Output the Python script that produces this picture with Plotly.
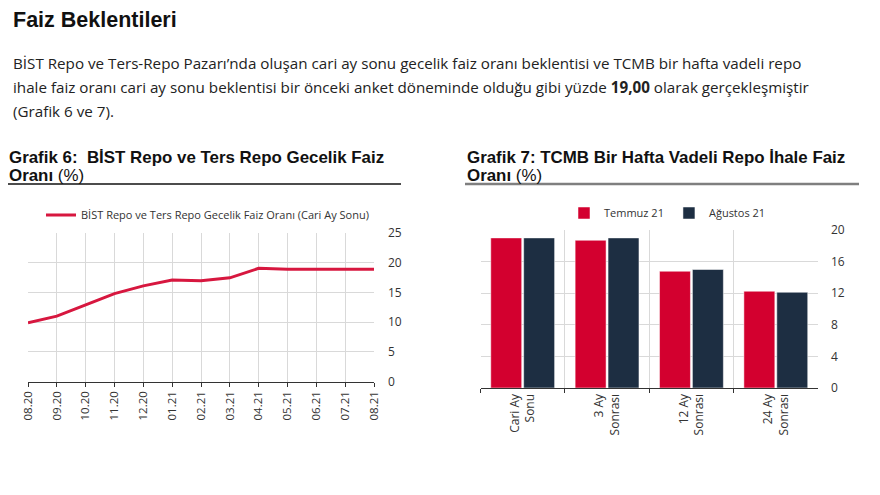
import plotly.graph_objects as go

# Grafik 6 verisi
months = ["08.20", "09.20", "10.20", "11.20", "12.20", "01.21", "02.21",
          "03.21", "04.21", "05.21", "06.21", "07.21", "08.21"]
bist_repo = [9.9, 11.0, 12.9, 14.8, 16.1, 17.1, 16.95, 17.45, 19.05, 18.9, 18.9, 18.9, 18.9]

# Grafik 7 verisi
horizons = ["Cari Ay<br>Sonu", "3 Ay<br>Sonrası", "12 Ay<br>Sonrası", "24 Ay<br>Sonrası"]
temmuz = [19.0, 18.7, 14.78, 12.25]
agustos = [19.0, 19.0, 15.0, 12.12]

red = "#D3002F"
navy = "#1D2E42"
grid = "#D9D9D9"

fig = go.Figure()

fig.add_trace(go.Scatter(x=months, y=bist_repo, mode="lines",
                         name="BİST Repo ve Ters Repo Gecelik Faiz Oranı (Cari Ay Sonu)",
                         line=dict(color="#D7173F", width=3), showlegend=True,
                         xaxis="x", yaxis="y", legend="legend"))

fig.add_trace(go.Bar(x=horizons, y=temmuz, name="Temmuz 21", marker_color=red,
                     marker_line=dict(color="white", width=0.5),
                     xaxis="x2", yaxis="y2", legend="legend2"))
fig.add_trace(go.Bar(x=horizons, y=agustos, name="Ağustos 21", marker_color=navy,
                     marker_line=dict(color="white", width=0.5),
                     xaxis="x2", yaxis="y2", legend="legend2"))

W, H = 880, 495
OFF = 8  # sayfa kenar boşluğu


def px(x):
    return (x - OFF) / W


def py(y):
    return 1 - (y - OFF) / H


tick_font = dict(family="Open Sans", size=12, color="#333333")

fig.update_layout(
    width=W, height=H,
    margin=dict(l=0, r=0, t=0, b=0, autoexpand=False),
    paper_bgcolor="white", plot_bgcolor="white",
    showlegend=True,
    barmode="group", bargap=0.22, bargroupgap=0.06,
    font=dict(family="Open Sans", color="#222222"),
    xaxis=dict(domain=[px(28), px(374)], type="category", range=[0, 12],
               showgrid=True, gridcolor=grid, gridwidth=1,
               showline=True, linecolor="#333333", linewidth=1.2,
               ticks="outside", ticklen=4, tickcolor="#333333",
               tickangle=-90, tickfont=dict(family="Open Sans", size=11.5, color="#333333"),
               anchor="y", zeroline=False),
    yaxis=dict(domain=[py(381.5), py(233)], range=[0, 25], dtick=5, side="right",
               showgrid=True, gridcolor=grid, gridwidth=1, zeroline=False,
               tickfont=tick_font, anchor="x", ticks="", ticklabelstandoff=13),
    xaxis2=dict(domain=[px(480.5), px(818)], type="category",
                showgrid=True, gridcolor=grid, gridwidth=1, tickson="boundaries",
                showline=True, linecolor="#333333", linewidth=1.2,
                ticks="outside", ticklen=4, tickcolor="#333333",
                tickangle=-90, tickfont=dict(family="Open Sans", size=12, color="#333333"),
                anchor="y2", zeroline=False),
    yaxis2=dict(domain=[py(388), py(230)], range=[0, 20], dtick=4, side="right",
                showgrid=True, gridcolor=grid, gridwidth=1, zeroline=False,
                tickfont=tick_font, anchor="x2", ticks="", ticklabelstandoff=12),
    legend=dict(orientation="h", x=px(41), y=py(215), xanchor="left", yanchor="middle",
                font=dict(family="Open Sans", size=11, color="#333333"),
                bgcolor="rgba(0,0,0,0)"),
    legend2=dict(orientation="h", x=px(564), y=py(213), xanchor="left", yanchor="middle",
                 font=dict(family="Open Sans", size=11, color="#333333"),
                 bgcolor="rgba(0,0,0,0)"),
)

# Metinler
texts = [
    (11, 20, "<b>Faiz Beklentileri</b>", "Liberation Sans", 21.5, "#111111"),
    (11, 63, "BİST Repo ve Ters-Repo Pazarı’nda oluşan cari ay sonu gecelik faiz oranı beklentisi ve TCMB bir hafta vadeli repo",
     "Open Sans", 15.2, "#222222"),
    (11, 87, "ihale faiz oranı cari ay sonu beklentisi bir önceki anket döneminde olduğu gibi yüzde <b>19,00</b> olarak gerçekleşmiştir",
     "Open Sans", 15.2, "#222222"),
    (11, 111, "(Grafik 6 ve 7).", "Open Sans", 15.2, "#222222"),
    (7, 158, "<b>Grafik 6:  BİST Repo ve Ters Repo Gecelik Faiz</b>", "Liberation Sans", 16.9, "#111111"),
    (7, 176, "<b>Oranı</b> (%)", "Liberation Sans", 16.9, "#111111"),
    (465, 158, "<b>Grafik 7: TCMB Bir Hafta Vadeli Repo İhale Faiz</b>", "Liberation Sans", 16.9, "#111111"),
    (465, 176, "<b>Oranı</b> (%)", "Liberation Sans", 16.9, "#111111"),
]
for x, y, t, fam, size, col in texts:
    fig.add_annotation(x=px(x), y=py(y), xref="paper", yref="paper", text=t,
                       showarrow=False, xanchor="left", yanchor="middle",
                       font=dict(family=fam, size=size, color=col))

# Başlık alt çizgileri
fig.add_shape(type="line", xref="paper", yref="paper", x0=px(8), x1=px(401),
              y0=py(184), y1=py(184), line=dict(color="#111111", width=1.3))
fig.add_shape(type="line", xref="paper", yref="paper", x0=px(465), x1=px(859),
              y0=py(184), y1=py(184), line=dict(color="#7F7F7F", width=2.5))

fig.write_html("out.html")
